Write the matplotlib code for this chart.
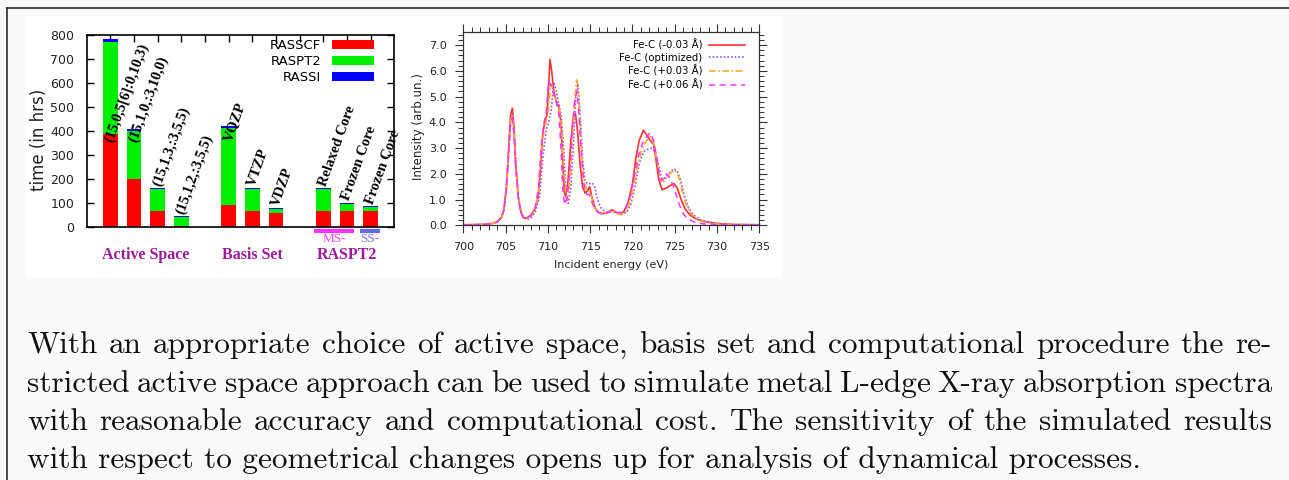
import matplotlib
matplotlib.use("Agg")
import matplotlib.pyplot as plt
import matplotlib.transforms as mtransforms
from matplotlib.patches import Patch, Rectangle
from matplotlib.lines import Line2D
from matplotlib.ticker import MultipleLocator, FormatStrFormatter

W, H = 1289, 480

# ---------------- bar chart data ----------------
bar_labels = ["(15,0,5[6]:0,10,3)", "(15,1,0,:3,10,0)", "(15,1,3,:3,5,5)", "(15,1,2,:3,5,5)",
              "VQZP", "VTZP", "VDZP",
              "Relaxed Core", "Frozen Core", "Frozen Core"]
group_sizes = [4, 3, 3]
group_names = ["Active Space", "Basis Set", "RASPT2"]
rasscf = [388, 198, 67, 5, 90, 67, 56, 67, 67, 67]
raspt2 = [384, 203, 90, 34, 323, 90, 18, 90, 28, 15]
rassi = [10, 7, 4, 4, 6, 4, 4, 4, 4, 4]
series_names = ["RASSCF", "RASPT2", "RASSI"]
bar_yticks = [0, 100, 200, 300, 400, 500, 600, 700, 800]
sub_names = ["MS-", "SS-"]

# ---------------- spectra data ----------------
spec_names = ["Fe-C (-0.03 Å)", "Fe-C (optimized)", "Fe-C (+0.03 Å)", "Fe-C (+0.06 Å)"]
red_pts = [(700,0.02),(702,0.03),(703,0.05),(703.5,0.08),(704,0.13),(704.5,0.3),(704.8,0.6),(705.1,1.5),
           (705.4,3.2),(705.6,4.3),(705.8,4.55),(706.0,3.8),(706.2,2.4),(706.5,1.1),(706.8,0.55),(707.1,0.3),
           (707.5,0.28),(708.0,0.4),(708.4,0.6),(708.8,1.0),(709.1,2.0),(709.4,3.6),(709.7,4.1),(709.9,4.3),
           (710.05,5.2),(710.25,6.45),(710.45,6.0),(710.7,5.2),(711.0,4.8),(711.3,4.6),(711.55,4.0),(711.75,2.6),
           (711.95,1.3),(712.1,1.1),(712.35,1.6),(712.7,3.2),(713.0,4.2),(713.25,4.35),(713.5,3.7),(713.8,2.4),
           (714.1,1.5),(714.4,1.25),(714.7,1.35),(714.95,1.5),(715.2,1.1),(715.6,0.65),(716.0,0.5),(716.5,0.45),
           (717.0,0.5),(717.6,0.6),(718.1,0.5),(718.6,0.42),(719.0,0.55),(719.5,0.9),(720.0,1.6),(720.4,2.6),
           (720.8,3.3),(721.3,3.7),(721.7,3.5),(722.1,3.3),(722.5,3.15),(722.8,2.5),(723.1,1.8),(723.5,1.38),
           (724.0,1.45),(724.5,1.55),(724.9,1.62),(725.3,1.45),(725.7,1.05),(726.2,0.65),(726.8,0.4),(727.5,0.25),
           (728.5,0.15),(730,0.07),(732,0.03),(735,0.02)]
opt_pts = [(700,0.02),(702,0.03),(703,0.05),(703.5,0.08),(704,0.12),(704.5,0.28),(704.8,0.55),(705.1,1.4),
           (705.4,3.0),(705.6,4.1),(705.8,4.3),(706.0,3.6),(706.2,2.3),(706.5,1.1),(706.8,0.5),(707.1,0.3),
           (707.5,0.22),(708.0,0.3),(708.5,0.5),(709.0,1.1),(709.4,2.6),(709.8,3.7),(710.1,4.0),(710.4,4.5),
           (710.7,5.55),(711.0,5.2),(711.3,4.7),(711.6,4.2),(711.9,2.8),(712.15,1.2),(712.4,0.85),(712.7,1.4),
           (713.0,3.0),(713.3,5.0),(713.55,5.5),(713.8,4.4),(714.1,2.6),(714.4,1.7),(714.8,1.6),(715.2,1.65),
           (715.5,1.55),(715.8,1.1),(716.2,0.7),(716.7,0.55),(717.3,0.5),(718.0,0.5),(718.7,0.45),(719.3,0.5),
           (719.8,0.8),(720.3,1.5),(720.8,2.4),(721.3,2.85),(721.8,2.95),(722.3,3.0),(722.7,2.85),(723.1,2.3),
           (723.5,1.8),(723.9,1.85),(724.4,2.05),(724.9,2.2),(725.3,2.1),(725.7,1.75),(726.1,1.2),(726.6,0.7),
           (727.2,0.4),(728.0,0.22),(729,0.12),(730,0.07),(732,0.03),(735,0.02)]
p03_pts = [(700,0.02),(702,0.03),(703,0.05),(703.5,0.08),(704,0.13),(704.5,0.3),(704.8,0.6),(705.1,1.45),
           (705.4,3.1),(705.6,4.1),(705.8,4.25),(706.0,3.6),(706.2,2.3),(706.5,1.1),(706.8,0.52),(707.1,0.3),
           (707.5,0.26),(708.0,0.35),(708.5,0.6),(708.9,1.3),(709.3,3.2),(709.7,3.9),(710.0,4.3),(710.35,5.5),
           (710.7,5.2),(711.0,4.8),(711.3,4.6),(711.6,3.9),(711.9,2.0),(712.2,0.95),(712.5,1.3),(712.8,2.8),
           (713.1,4.6),(713.4,5.65),(713.6,5.2),(713.9,3.3),(714.2,1.9),(714.6,1.35),(715.0,1.3),(715.4,0.8),
           (715.9,0.5),(716.5,0.45),(717.0,0.5),(717.6,0.55),(718.2,0.45),(718.8,0.42),(719.3,0.55),(719.8,1.0),
           (720.3,1.8),(720.8,2.6),(721.3,3.1),(721.7,3.3),(722.1,3.45),(722.5,3.2),(722.9,2.5),(723.3,1.75),
           (723.7,1.7),(724.1,1.9),(724.6,2.05),(725.0,2.15),(725.4,1.95),(725.8,1.45),(726.3,0.85),(726.9,0.45),
           (727.6,0.25),(728.5,0.12),(730,0.05),(732,0.03),(735,0.02)]
p06_pts = [(700,0.02),(702,0.03),(703,0.05),(703.5,0.08),(704,0.13),(704.5,0.3),(704.8,0.6),(705.1,1.45),
           (705.4,3.0),(705.6,4.0),(705.8,4.15),(706.0,3.5),(706.2,2.3),(706.5,1.1),(706.8,0.5),(707.1,0.3),
           (707.5,0.27),(708.0,0.38),(708.5,0.65),(708.9,1.5),(709.2,3.0),(709.5,3.9),(709.8,4.4),(710.1,5.6),
           (710.4,5.4),(710.7,5.1),(711.0,4.8),(711.3,4.3),(711.55,3.0),(711.8,1.2),(712.0,0.8),(712.3,1.1),
           (712.6,2.2),(712.9,3.8),(713.2,4.9),(713.45,5.2),(713.7,4.2),(714.0,2.6),(714.3,1.5),(714.6,1.2),
           (714.9,1.2),(715.2,0.9),(715.6,0.6),(716.2,0.45),(716.8,0.45),(717.5,0.55),(718.0,0.5),(718.6,0.5),
           (719.2,0.65),(719.7,1.1),(720.2,1.9),(720.7,2.7),(721.2,3.2),(721.7,3.45),(722.1,3.6),(722.5,3.3),
           (722.9,2.6),(723.3,1.75),(723.7,1.8),(724.0,2.0),(724.4,1.85),(724.8,1.55),(725.2,1.15),(725.6,0.75),
           (726.1,0.4),(726.7,0.22),(727.5,0.1),(728.5,0.05),(730,0.03),(732,0.02),(735,0.02)]

paragraph_lines = [
    "With an appropriate choice of active space, basis set and computational procedure the re-",
    "stricted active space approach can be used to simulate metal L-edge X-ray absorption spectra",
    "with reasonable accuracy and computational cost. The sensitivity of the simulated results",
    "with respect to geometrical changes opens up for analysis of dynamical processes.",
]

# ---------------- figure ----------------
fig = plt.figure(figsize=(W / 100, H / 100), dpi=100, facecolor="#f9f9f9")

def fx(px):
    return px / W

def fy(py):
    return 1 - py / H

fig.patches.append(Rectangle((fx(25), fy(277)), fx(782) - fx(25), fy(16) - fy(277),
                             transform=fig.transFigure, facecolor="white", edgecolor="none", zorder=-5))
fig.add_artist(Line2D([fx(7), 1.0], [fy(8), fy(8)], color="#1a1a1a", lw=1.1, zorder=-4))
fig.add_artist(Line2D([fx(7), fx(7)], [fy(8), 0.0], color="#1a1a1a", lw=1.1, zorder=-4))

# ---------- bar chart ----------
positions = []
cur = 0
for g in group_sizes:
    for _ in range(g):
        positions.append(cur)
        cur += 1
    cur += 1

ax1 = fig.add_axes([fx(86.7), fy(226.7), fx(394.3) - fx(86.7), fy(35) - fy(226.7)])
ax1.set_zorder(2)
ax1.set_facecolor("white")
bw = 0.62
bot2 = [a for a in rasscf]
bot3 = [a + b for a, b in zip(rasscf, raspt2)]
ax1.bar(positions, rasscf, width=bw, color="#ff0000", zorder=2)
ax1.bar(positions, raspt2, width=bw, bottom=bot2, color="#00ee00", zorder=2)
ax1.bar(positions, rassi, width=bw, bottom=bot3, color="#0000ff", zorder=2)
ax1.set_xlim(-1, 12)
ax1.set_ylim(0, 800)
ax1.set_yticks(bar_yticks)
ax1.set_xticks(range(0, 12))
ax1.tick_params(axis="y", direction="in", length=5, width=1, left=True, right=True,
                labelsize=9, pad=9, colors="black", labelcolor="#222222")
ax1.tick_params(axis="x", direction="in", length=5, width=1, top=True, bottom=False,
                labelbottom=False, labeltop=False)
for s in ax1.spines.values():
    s.set_linewidth(1.2)
    s.set_color("black")

totals = [a + b + c for a, b, c in zip(rasscf, raspt2, rassi)]
for p, t, lab in zip(positions, totals, bar_labels):
    ax1.text(p + 0.22, min(t, 345) + 2, lab, rotation=70, rotation_mode="anchor",
             ha="left", va="bottom", fontfamily="Liberation Serif", fontweight="bold",
             fontsize=10.5, color="black", zorder=3)

handles = [Patch(facecolor=c, edgecolor="none") for c in ["#ff0000", "#00ee00", "#0000ff"]]
ax1.legend(handles, series_names, loc="upper right", frameon=False, markerfirst=False,
           fontsize=9.5, handlelength=3.2, handleheight=0.6, labelspacing=0.22,
           borderaxespad=0.0, borderpad=0.0, handletextpad=0.8,
           bbox_to_anchor=(0.934, 0.978))

fig.text(fx(39.3), fy(139.5), "time (in hrs)", rotation=90, ha="center", va="center",
         fontsize=12, color="#222222")

btrans = mtransforms.blended_transform_factory(ax1.transData, ax1.transAxes)
grp_color = "#9c1a9c"
start = 0
centers = []
for g, name in zip(group_sizes, group_names):
    grp = positions[start:start + g]
    start += g
    centers.append(sum(grp) / len(grp))
for c, name in zip(centers, group_names):
    ax1.text(c, -0.148, name, transform=btrans, ha="center", va="center",
             fontfamily="Liberation Serif", fontweight="bold", fontsize=11.5,
             color=grp_color, clip_on=False)

last = positions[-3:]
ms_x0, ms_x1 = last[0] - 0.4, last[1] + 0.3
ss_x0, ss_x1 = last[2] - 0.45, last[2] + 0.4
ax1.add_line(Line2D([ms_x0, ms_x1], [-0.021, -0.021], transform=btrans, color="#ff33ff",
                    lw=3, clip_on=False, solid_capstyle="butt"))
ax1.add_line(Line2D([ss_x0, ss_x1], [-0.021, -0.021], transform=btrans, color="#6666ee",
                    lw=3, clip_on=False, solid_capstyle="butt"))
ax1.text((ms_x0 + ms_x1) / 2, -0.064, sub_names[0], transform=btrans, ha="center", va="center",
         fontfamily="Liberation Serif", fontsize=9.5, color="#ff44ff", clip_on=False)
ax1.text((ss_x0 + ss_x1) / 2, -0.064, sub_names[1], transform=btrans, ha="center", va="center",
         fontfamily="Liberation Serif", fontsize=9.5, color="#7777ff", clip_on=False)

# ---------- spectra ----------
ax2 = fig.add_axes([fx(463.3), fy(225.3), fx(759.3) - fx(463.3), fy(32.3) - fy(225.3)])
ax2.set_zorder(2)
ax2.set_facecolor("white")
styles = [
    dict(color="#ff3030", ls="-", lw=1.2),
    dict(color="#9b4dff", ls=(0, (1, 1.2)), lw=1.2),
    dict(color="#ffa530", ls=(0, (4, 1.5, 1, 1.5)), lw=1.2),
    dict(color="#ff33ff", ls=(0, (4, 3)), lw=1.1),
]
for pts, name, st in zip([red_pts, opt_pts, p03_pts, p06_pts], spec_names, styles):
    xs = [a for a, b in pts]
    ys = [b for a, b in pts]
    ax2.plot(xs, ys, label=name, **st)
ax2.set_xlim(700, 735)
ax2.set_ylim(0, 7.5)
ax2.xaxis.set_major_locator(MultipleLocator(5))
ax2.xaxis.set_minor_locator(MultipleLocator(1))
ax2.yaxis.set_major_locator(MultipleLocator(1))
ax2.yaxis.set_minor_locator(MultipleLocator(0.2))
ax2.yaxis.set_major_formatter(FormatStrFormatter("%.1f"))
ax2.tick_params(which="both", direction="out", top=True, right=True, colors="#333333",
                labelcolor="#222222", labelsize=8)
ax2.tick_params(which="major", length=6, width=0.8, pad=6)
ax2.tick_params(which="minor", length=3.5, width=0.7)
for s in ax2.spines.values():
    s.set_linewidth(0.9)
    s.set_color("#333333")
ax2.set_xlabel("Incident energy (eV)", fontsize=8, color="#222222", labelpad=6)
fig.text(fx(418.3), fy(126.7), "Intensity (arb.un.)", rotation=90, ha="center", va="center",
         fontsize=8.5, color="#222222")
ax2.legend(loc="upper right", frameon=False, markerfirst=False, fontsize=7.3,
           handlelength=3.6, labelspacing=0.25, borderaxespad=0.0, borderpad=0.0,
           handletextpad=0.6, bbox_to_anchor=(0.952, 0.967))

# ---------- paragraph ----------
fs = 22.5
x_left, x_right = 27, 1272
baselines = [353, 391.5, 430, 468.3]
renderer = fig.canvas.get_renderer()
for i, (line, yb) in enumerate(zip(paragraph_lines, baselines)):
    justify = i < len(paragraph_lines) - 1
    if not justify:
        fig.text(fx(x_left), fy(yb), line, fontfamily="cmr10", fontsize=fs, ha="left",
                 va="baseline", color="#111111")
        continue
    words = line.split(" ")
    arts = [fig.text(fx(x_left), fy(yb), w, fontfamily="cmr10", fontsize=fs, ha="left",
                     va="baseline", color="#111111") for w in words]
    widths = [a.get_window_extent(renderer).width for a in arts]
    gap = (x_right - x_left - sum(widths)) / (len(words) - 1)
    xc = x_left
    for a, w in zip(arts, widths):
        a.set_x(fx(xc))
        xc += w + gap

fig.savefig("out.png", dpi=100, facecolor=fig.get_facecolor())
